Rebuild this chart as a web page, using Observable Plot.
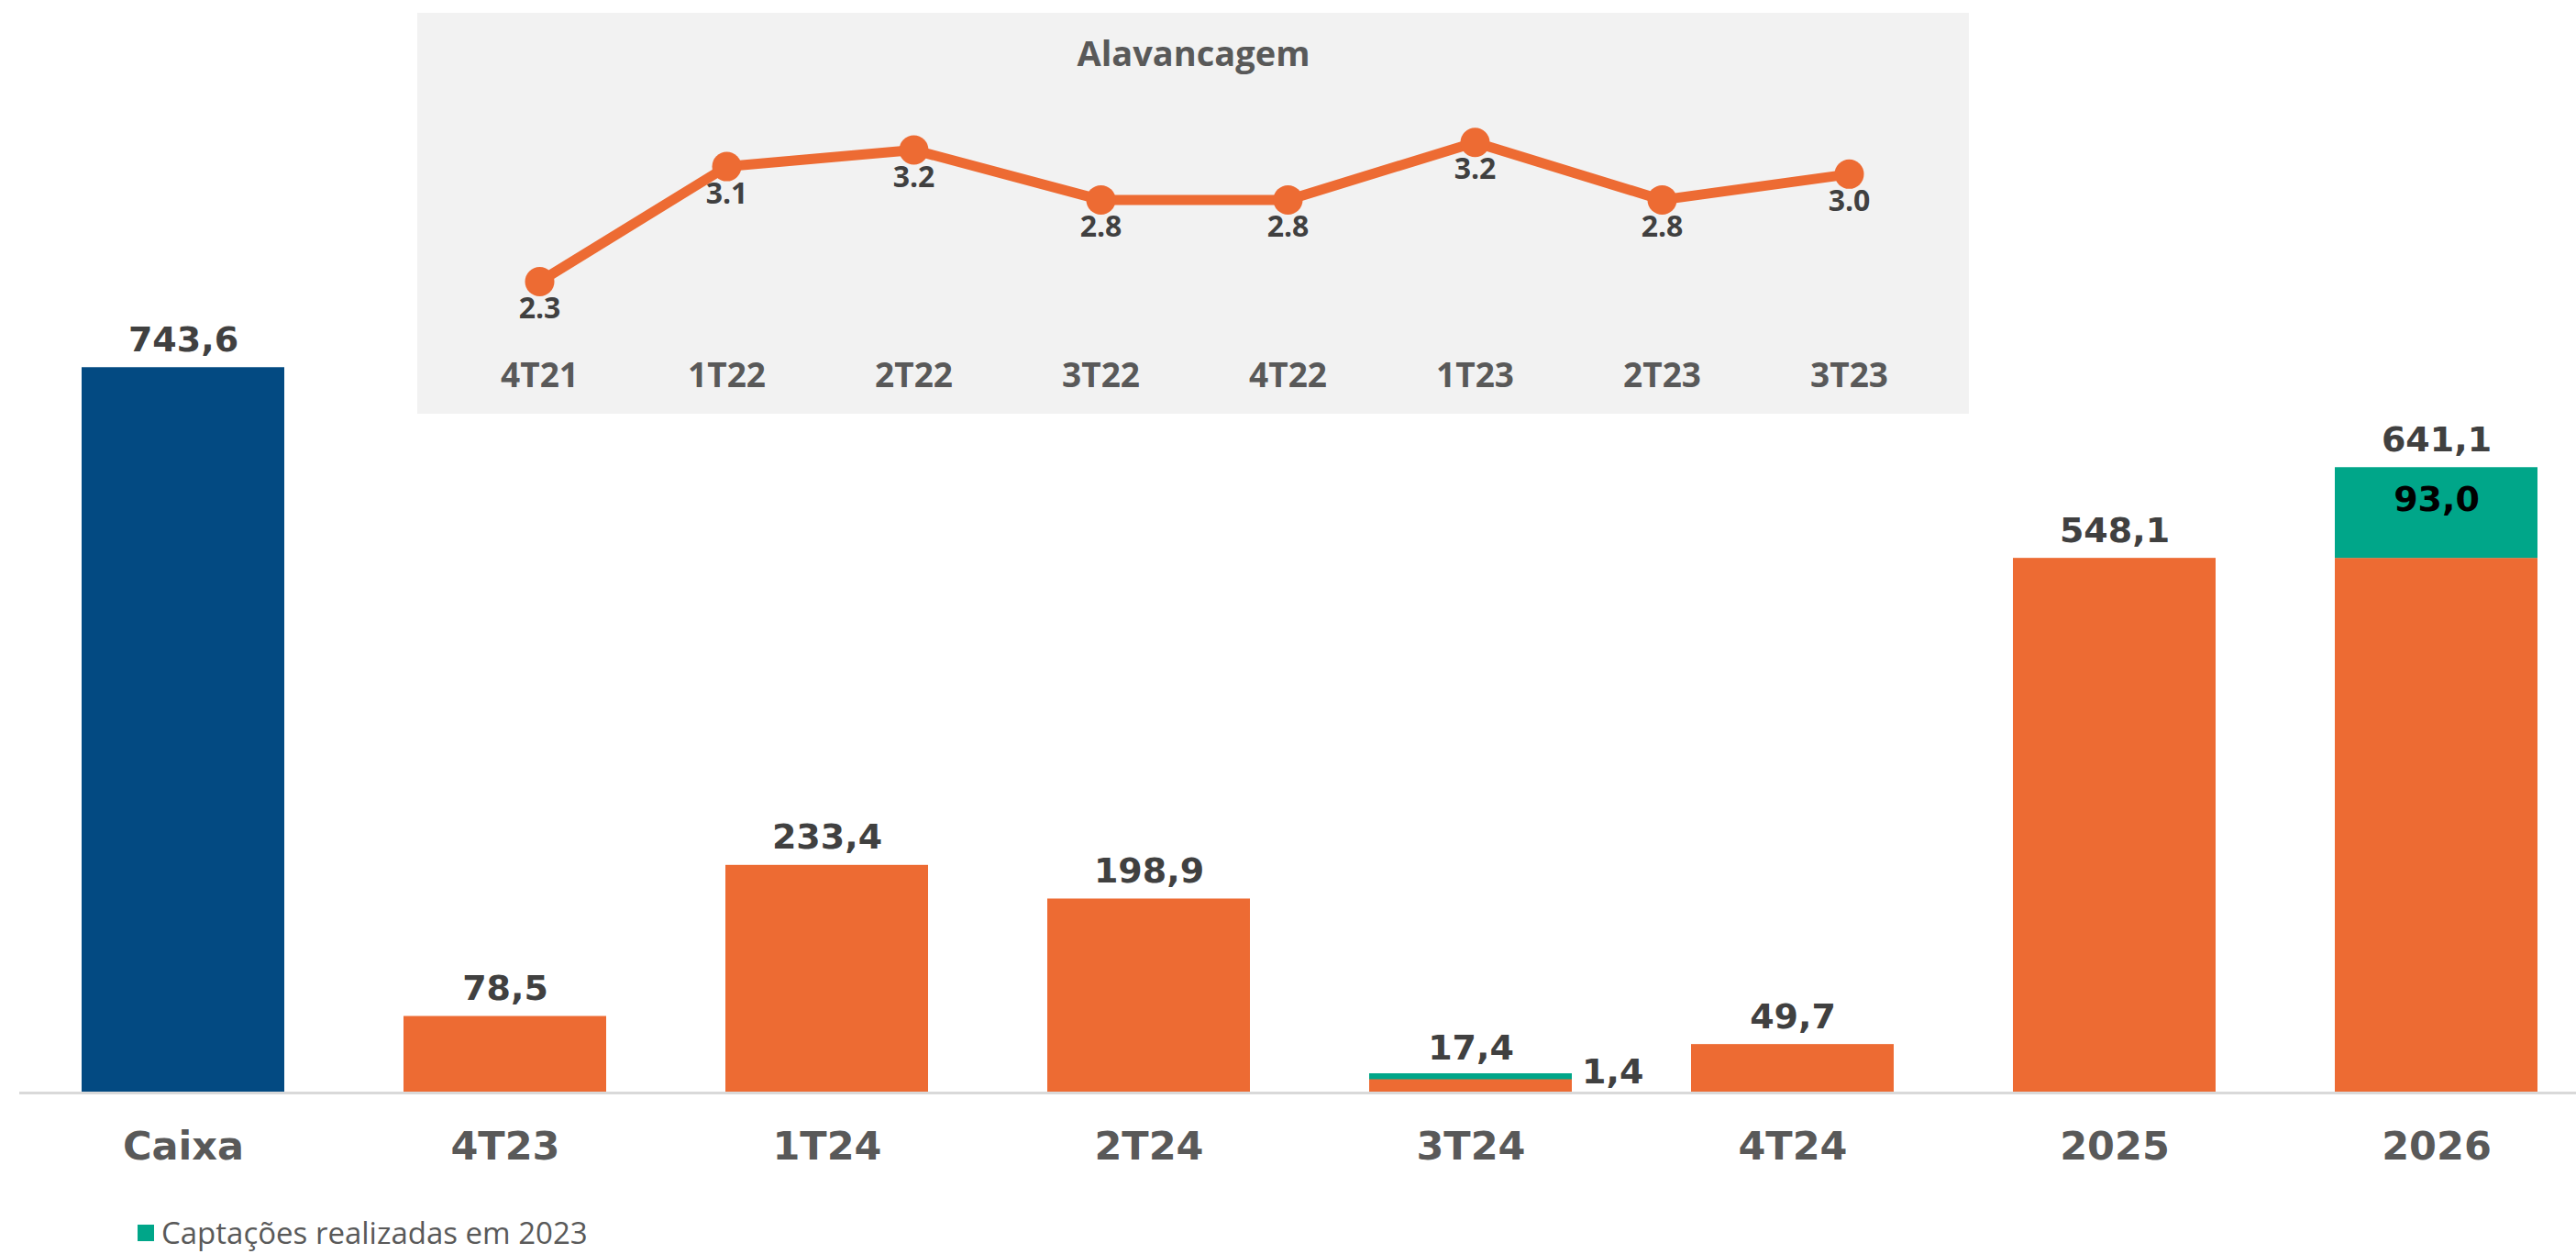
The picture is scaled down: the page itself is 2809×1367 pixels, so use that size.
<!DOCTYPE html>
<html>
<head>
<meta charset="utf-8">
<script src="https://cdn.jsdelivr.net/npm/d3@7"></script>
<script src="https://cdn.jsdelivr.net/npm/@observablehq/plot@0.6"></script>
<style>
  html, body { margin: 0; padding: 0; background: #ffffff; }
  #wrap { position: relative; width: 2809px; height: 1367px; background: #ffffff; }
  #main { position: absolute; left: 0; top: 0; }
  #inset { position: absolute; left: 455px; top: 14px; }
  #legend { position: absolute; left: 150px; top: 1326px; height: 36px; line-height: 36px; display: flex; align-items: center;
            font-family: "Open Sans", sans-serif; font-size: 33px; color: #595959; white-space: nowrap; }
  #legend .sw { width: 18px; height: 18px; margin-right: 8px; }
</style>
</head>
<body>
<div id="wrap">
  <div id="main"></div>
  <div id="inset"></div>
  <div id="legend"></div>
</div>
<script>
// ---- Data ----
const categories = ["Caixa", "4T23", "1T24", "2T24", "3T24", "4T24", "2025", "2026"];
const baseValues = [743.6, 78.5, 233.4, 198.9, 16.0, 49.7, 548.1, 548.1];
const captacoes  = [0, 0, 0, 0, 1.4, 0, 0, 93.0];
const legendLabel = "Captações realizadas em 2023";

const leverageTitle = "Alavancagem";
const leverageQuarters = ["4T21", "1T22", "2T22", "3T22", "4T22", "1T23", "2T23", "3T23"];
const leverageValues   = [2.30, 3.06, 3.17, 2.84, 2.84, 3.22, 2.84, 3.01];

// ---- Styles ----
const BLUE = "#034A82", ORANGE = "#ED6B33", GREEN = "#00A689";
const fmt = v => v.toFixed(1).replace(".", ",");

const rows = categories.map((c, i) => ({
  cat: c, base: baseValues[i], extra: captacoes[i], total: baseValues[i] + captacoes[i]
}));

const main = Plot.plot({
  width: 2809, height: 1310,
  marginTop: 0, marginBottom: 119, marginLeft: 21, marginRight: 0,
  x: {domain: categories, range: [21, 2836], paddingInner: 0.37, paddingOuter: 0.185, label: null},
  y: {domain: [0, 1120], axis: null},
  color: {type: "identity"},
  style: {fontFamily: "DejaVu Sans", background: "transparent", overflow: "visible"},
  marks: [
    Plot.barY(rows, {x: "cat", y: "base", fill: d => d.cat === "Caixa" ? BLUE : ORANGE}),
    Plot.barY(rows.filter(d => d.extra >= 20), {x: "cat", y1: "base", y2: "total", fill: GREEN}),
    Plot.barY(rows.filter(d => d.extra > 0 && d.extra < 20), {x: "cat", y1: "base", y2: "total", fill: GREEN,
      stroke: GREEN, strokeWidth: 5, insetLeft: 2.5, insetRight: 2.5}),
    Plot.ruleY([0], {stroke: "#d9d9d9", strokeWidth: 3}),
    Plot.text(rows, {x: "cat", y: "total", text: d => fmt(d.total), lineAnchor: "bottom", dy: -18,
      fontSize: 38, fontWeight: "bold", fill: "#404040"}),
    Plot.text(rows.filter(d => d.extra >= 20), {x: "cat", y: d => d.base + d.extra / 2, text: d => fmt(d.extra),
      lineAnchor: "middle", dy: -14, fontSize: 38, fontWeight: "bold", fill: "#000000"}),
    Plot.text(rows.filter(d => d.extra > 0 && d.extra < 20), {x: "cat", y: "total", text: d => fmt(d.extra),
      textAnchor: "start", lineAnchor: "bottom", dx: 121, dy: 8, fontSize: 38, fontWeight: "bold", fill: "#404040"}),
    Plot.axisX({tickSize: 0, tickPadding: 42, fontSize: 43, fontWeight: "bold", fill: "#595959", label: null})
  ]
});
document.getElementById("main").appendChild(main);

const lev = leverageQuarters.map((q, i) => ({q, v: leverageValues[i]}));
const inset = Plot.plot({
  width: 1692, height: 437,
  marginTop: 0, marginLeft: 0, marginRight: 0, marginBottom: 56,
  x: {type: "point", domain: leverageQuarters, range: [131.7, 1561.7], padding: 0, label: null},
  y: {domain: [2, 3.5], range: [342, 94.5], axis: null},
  style: {fontFamily: "Open Sans", background: "#f2f2f2"},
  marks: [
    Plot.text([leverageTitle], {text: d => d, frameAnchor: "top", lineAnchor: "bottom", dy: 57.7,
      fontSize: 38, fontWeight: "bold", fill: "#595959"}),
    Plot.lineY(lev, {x: "q", y: "v", stroke: ORANGE, strokeWidth: 11}),
    Plot.dot(lev, {x: "q", y: "v", r: 16, fill: ORANGE}),
    Plot.text(lev, {x: "q", y: "v", text: d => d.v.toFixed(1), dy: 30,
      fontSize: 32, fontWeight: "bold", fill: "#404040"}),
    Plot.axisX({tickSize: 0, tickPadding: 0, fontSize: 37, fontWeight: "bold", fill: "#595959", label: null})
  ]
});
document.getElementById("inset").appendChild(inset);

const legend = document.getElementById("legend");
const sw = document.createElement("span");
sw.className = "sw"; sw.style.background = GREEN;
const lt = document.createElement("span");
lt.textContent = legendLabel;
legend.appendChild(sw); legend.appendChild(lt);
</script>
</body>
</html>
